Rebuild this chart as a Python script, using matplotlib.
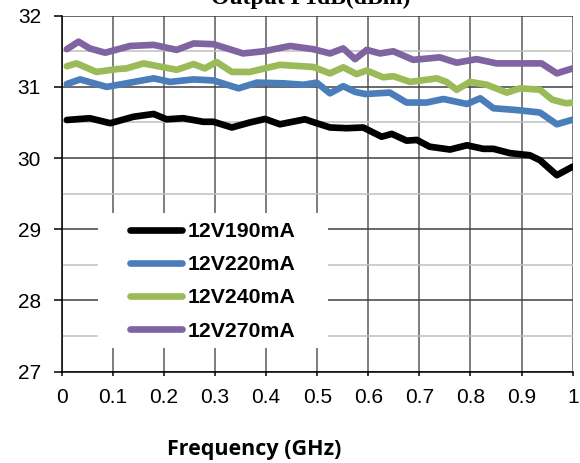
import matplotlib
matplotlib.use('agg')

import matplotlib.pyplot as plt
from matplotlib.patches import Rectangle
from matplotlib.ticker import MultipleLocator, FuncFormatter

# readings (frequency in GHz, P1dB in dBm)
freq_190 = [0.01, 0.055, 0.095, 0.14, 0.18, 0.205, 0.238, 0.277, 0.297, 0.333,
            0.368, 0.398, 0.427, 0.476, 0.499, 0.525, 0.558, 0.59, 0.626, 0.646,
            0.675, 0.695, 0.72, 0.76, 0.793, 0.825, 0.845, 0.877, 0.916, 0.936,
            0.969, 1.0]
p1db_190 = [30.535, 30.56, 30.49, 30.58, 30.62, 30.545, 30.56, 30.51, 30.51, 30.43,
            30.50, 30.55, 30.475, 30.545, 30.49, 30.43, 30.42, 30.43, 30.30, 30.34,
            30.245, 30.255, 30.16, 30.12, 30.18, 30.13, 30.13, 30.07, 30.04, 29.97,
            29.76, 29.88]

freq_220 = [0.01, 0.036, 0.088, 0.134, 0.18, 0.212, 0.258, 0.297, 0.346, 0.382,
            0.434, 0.473, 0.499, 0.525, 0.551, 0.574, 0.594, 0.642, 0.675, 0.714,
            0.747, 0.793, 0.819, 0.845, 0.89, 0.936, 0.969, 1.0]
p1db_220 = [31.04, 31.105, 31.0, 31.06, 31.12, 31.07, 31.105, 31.09, 30.98, 31.06,
            31.05, 31.03, 31.06, 30.91, 31.01, 30.93, 30.90, 30.92, 30.78, 30.78,
            30.83, 30.76, 30.84, 30.70, 30.675, 30.64, 30.475, 30.54]

freq_240 = [0.01, 0.029, 0.068, 0.108, 0.127, 0.16, 0.225, 0.258, 0.28, 0.303,
            0.333, 0.368, 0.427, 0.492, 0.525, 0.551, 0.577, 0.597, 0.629, 0.649,
            0.682, 0.734, 0.753, 0.773, 0.799, 0.832, 0.871, 0.897, 0.936, 0.96,
            0.987, 1.0]
p1db_240 = [31.29, 31.33, 31.21, 31.25, 31.26, 31.33, 31.24, 31.32, 31.26, 31.35,
            31.21, 31.21, 31.31, 31.28, 31.19, 31.275, 31.18, 31.23, 31.135, 31.15,
            31.07, 31.12, 31.07, 30.96, 31.07, 31.03, 30.92, 30.98, 30.96, 30.82,
            30.77, 30.78]

freq_270 = [0.01, 0.033, 0.055, 0.085, 0.134, 0.18, 0.225, 0.258, 0.297, 0.355,
            0.395, 0.447, 0.492, 0.525, 0.551, 0.574, 0.597, 0.623, 0.649, 0.688,
            0.74, 0.773, 0.812, 0.851, 0.89, 0.939, 0.969, 1.0]
p1db_270 = [31.53, 31.635, 31.54, 31.48, 31.575, 31.59, 31.52, 31.61, 31.60, 31.47,
            31.50, 31.575, 31.53, 31.47, 31.54, 31.39, 31.52, 31.47, 31.50, 31.38,
            31.415, 31.34, 31.39, 31.33, 31.33, 31.33, 31.19, 31.26]

series = [
  ('12V190mA', freq_190, p1db_190, '#000000'),
  ('12V220mA', freq_220, p1db_220, '#4a7ebb'),
  ('12V240mA', freq_240, p1db_240, '#9bbb59'),
  ('12V270mA', freq_270, p1db_270, '#8064a2'),
]

plt.rcParams['font.family'] = ['Liberation Sans', 'DejaVu Sans']

fig = plt.figure(figsize=(5.8, 4.63), dpi=100)
ax = fig.add_axes([0.1064, 0.1972, 0.881, 0.7689])

for name, f, p, col in series:
  ax.plot(f, p, color=col, lw=4.8, label=name, solid_capstyle='round',
          solid_joinstyle='round', zorder=3)

ax.set_xlim(0, 1)
ax.set_ylim(27, 32)
ax.xaxis.set_major_locator(MultipleLocator(0.1))
ax.yaxis.set_major_locator(MultipleLocator(1))
ax.yaxis.set_minor_locator(MultipleLocator(0.5))
ax.xaxis.set_major_formatter(FuncFormatter(lambda v, pos: '%g' % round(v, 1)))

ax.grid(True, which='major', axis='x', color='#5a5a5a', lw=1.1)
ax.grid(True, which='major', axis='y', color='#404040', lw=1.1)
ax.grid(True, which='minor', axis='y', color='#c0c0c0', lw=1.1)
ax.set_axisbelow(True)

for side in ['top', 'right']:
  ax.spines[side].set_visible(False)
ax.spines['left'].set_color('black')
ax.spines['bottom'].set_color('black')
ax.spines['left'].set_linewidth(1.1)
ax.spines['bottom'].set_linewidth(1.1)

ax.tick_params(axis='y', which='major', direction='out', length=6, width=1.1, pad=9, labelsize=15)
ax.tick_params(axis='y', which='minor', length=0)
ax.tick_params(axis='x', which='major', direction='out', length=3, width=1.1, pad=9, labelsize=15)

# white block behind the legend, hiding the grid there
ax.add_patch(Rectangle((0.071, 0.0666), 0.45, 0.379, transform=ax.transAxes,
                       facecolor='white', edgecolor='none', zorder=2))

leg = ax.legend(loc='center', bbox_to_anchor=(0.295, 0.2534), frameon=False,
                prop={'weight': 'bold', 'size': 15.3}, handlelength=2.45,
                handletextpad=0.25, labelspacing=0.66, borderaxespad=0,
                borderpad=0)
leg.set_zorder(5)

fig.text(0.438, 0.0173, 'Frequency (GHz)', ha='center', va='baseline',
         fontsize=15.5, fontweight='bold', family=['Open Sans', 'DejaVu Sans'])
fig.text(0.535, 0.9914, 'Output P1dB(dBm)', ha='center', va='baseline',
         fontsize=17, fontweight='bold', family=['Liberation Serif', 'DejaVu Serif'])

plt.savefig('out.png', dpi=100)
